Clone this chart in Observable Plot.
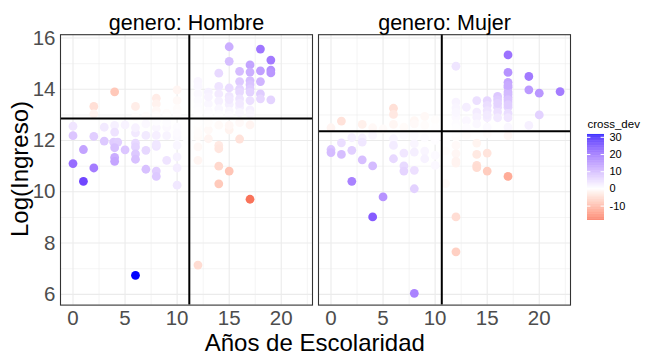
<!DOCTYPE html>
<html><head><meta charset="utf-8">
<script src="https://cdn.jsdelivr.net/npm/d3@7"></script>
<script src="https://cdn.jsdelivr.net/npm/@observablehq/plot@0.6"></script>
<style>
body{margin:0;background:#fff;}
#chart{position:relative;width:648px;height:360px;font-family:"Liberation Sans",Arial,sans-serif;overflow:hidden;}
#chart svg{position:absolute;}
.t{position:absolute;color:#000;white-space:nowrap;line-height:0.85;}
</style></head><body><div id="chart"></div>
<script>
const generos = ["Hombre", "Mujer"];
const hombreX = [15,18,15,19,17,14,16,17,18,19,19,16,17,18,17,12,12,14,15,16,17,17,18,16,13,14,15,16,17,18,19,12,12,13,14,15,16,17,12,13,14,15,16,12,14,15,17,12,13,14,13,12,15,16,
  4,2,6,8,8,8,10,10,10,9,2,8,10,11,9,7,6,
  0,0,2,3,4,4,5,6,6,7,8,8,9,9,10,10,3,3.9,4.3,4,6,6,5,7,8,8,10,1,0,2,1,4,4,6,6,7,8,8,9,10,10,10,6,11,10,11,9,7,8,
  12,12,12,13,13,14,14,15,16,15,17,12,14,15,14,17,12,12,13,14,16,12];
const hombreY = [15.66,15.57,15.09,15.14,14.95,14.63,14.70,14.67,14.72,14.75,14.64,14.30,14.34,14.30,14.18,14.31,14.11,14.11,14.05,14.02,14.02,13.89,13.82,13.89,13.89,13.82,13.72,13.63,13.56,13.63,13.59,13.82,13.56,13.43,13.54,13.41,13.30,13.20,13.30,13.15,13.24,13.15,13.09,13.04,13.02,12.98,13.04,13.15,13.00,12.95,13.70,12.95,13.60,13.45,
  13.90,13.33,13.33,13.65,13.43,13.17,13.98,13.56,13.24,13.07,13.04,12.98,13.05,13.20,12.95,12.95,12.92,
  12.56,12.19,12.16,12.52,12.59,12.33,12.61,12.30,12.50,12.20,12.50,12.20,12.52,12.19,12.52,12.14,11.98,11.94,11.94,11.72,11.90,11.75,11.64,11.62,11.77,11.85,11.81,11.65,11.10,10.93,10.41,11.34,11.19,11.48,11.27,10.88,10.81,10.60,11.23,11.36,10.93,10.26,6.74,12.60,12.30,12.00,12.70,12.65,12.75,
  12.52,12.14,11.75,12.42,12.07,11.81,11.68,12.42,12.06,12.59,12.61,11.23,11.00,10.81,10.31,9.71,7.14,12.70,12.70,12.60,12.70,12.30];
const mujerX = [17,12,17,19,17,19,20,22,17,17,17,17,17,17,17,16,16,15,14,15,16,15,16,16,20,19,12,12,13,14,13,14,15,12,12,15,17,14,17,17,17,17,16,15,12,12,13,
  6,6,1,3,4,6,8,9,10,7,8,0,10,9,5,
  0,0,1,1,2,2,3,3,4,3,4,2,5,4,8,6,6,6,7,7,7,8,8,8,8,9,9,10,10,10,8,9,10,7,
  12,12,12,12,12,14,14,15,14,14,15,17,12,12,15,17,11,12,13,11,11];
const mujerY = [15.34,14.90,14.66,14.50,14.27,13.98,13.85,13.91,14.08,13.89,13.69,13.50,13.30,13.07,12.89,13.72,13.59,13.56,13.56,13.37,13.30,13.17,13.11,12.89,13.00,12.59,13.50,13.28,13.30,13.11,12.78,12.91,12.89,12.91,12.65,12.52,12.52,12.65,14.15,13.80,13.60,13.40,13.45,13.00,13.10,12.50,12.50,
  13.26,13.02,12.76,12.63,12.50,12.63,12.78,12.94,12.81,12.52,12.65,12.50,12.50,12.60,12.45,
  11.65,11.53,11.91,11.46,12.11,11.62,12.10,11.94,12.20,11.25,11.01,10.41,9.80,9.02,6.04,12.07,11.81,11.29,11.51,11.01,10.81,10.84,10.12,11.88,11.55,11.59,11.29,12.01,11.03,11.42,12.20,12.10,12.20,12.20,
  12.13,11.81,11.49,11.12,11.20,11.90,11.46,11.51,11.03,10.94,10.81,10.60,9.02,7.66,12.26,12.19,10.32,12.30,12.20,12.00,11.60];
const mediaX = [11.17, 10.64];
const mediaY = [12.86, 12.36];
const xTicks = [0, 5, 10, 15, 20];
const xMinor = [2.5, 7.5, 12.5, 17.5, 22.5];
const yTicks = [6, 8, 10, 12, 14, 16];
const yMinor = [7, 9, 11, 13, 15];
const legendTicks = [-10, 0, 10, 20, 30];

const medias = generos.map((g, i) => ({genero: g, mx: mediaX[i], my: mediaY[i]}));
const series = [[hombreX, hombreY], [mujerX, mujerY]];
const data = [];
series.forEach(([xs, ys], i) => {
  xs.forEach((x, j) => {
    const y = ys[j];
    data.push({genero: generos[i], esc: x, ingreso: y, cross_dev: (x - mediaX[i]) * (y - mediaY[i])});
  });
});
const [dmin, dmax] = d3.extent(data, d => d.cross_dev);
const colorScale = {type: "linear", domain: [dmin, 0, dmax], range: ["#F9735A", "#FFFFFF", "#0000FF"], interpolate: d3.interpolateLab};

const font = '"Liberation Sans", Arial, sans-serif';
const grid = "#EBEBEB";
const main = Plot.plot({
  width: 648, height: 360,
  marginTop: 34.2, marginBottom: 55.4, marginLeft: 59.5, marginRight: 78,
  style: {fontFamily: font, background: "white"},
  fx: {domain: generos, paddingInner: 0.0235, paddingOuter: 0, label: null},
  x: {domain: [-1.2, 23.0], label: null},
  y: {domain: [5.58, 16.13], label: null},
  color: colorScale,
  marks: [
    Plot.ruleX(xMinor, {stroke: grid, strokeWidth: 0.55}),
    Plot.ruleY(yMinor, {stroke: grid, strokeWidth: 0.55}),
    Plot.ruleX(xTicks, {stroke: grid, strokeWidth: 1.1}),
    Plot.ruleY(yTicks, {stroke: grid, strokeWidth: 1.1}),
    Plot.dot(data, {x: "esc", y: "ingreso", fx: "genero", fill: "cross_dev", r: 4.4}),
    Plot.ruleX(medias, {x: "mx", fx: "genero", stroke: "black", strokeWidth: 2}),
    Plot.ruleY(medias, {y: "my", fx: "genero", stroke: "black", strokeWidth: 2}),
    Plot.frame({stroke: "#333333", strokeWidth: 1.1}),
    Plot.axisX({ticks: xTicks, tickSize: 0, tickPadding: 5.5, fontSize: 20.5, fill: "#4D4D4D", label: null}),
    Plot.axisY({ticks: yTicks, tickSize: 0, tickPadding: 5, fontSize: 20.5, fill: "#4D4D4D", label: null}),
    Plot.axisFx({anchor: "top", tickSize: 0, tickPadding: 5, fontSize: 21.5, fill: "black", label: null, tickFormat: d => `genero: ${d}`})
  ]
});

const step = (dmax - dmin) / 120;
const slices = d3.range(120).map(i => dmin + i * step);
const legend = Plot.plot({
  width: 73, height: 120, margin: 0,
  style: {fontFamily: font, background: "transparent", overflow: "visible"},
  x: {domain: [0, 1], range: [12, 29], axis: null},
  y: {domain: [dmin, dmax], range: [110, 24], axis: null},
  color: colorScale,
  marks: [
    Plot.rect(slices, {x1: 0, x2: 1, y1: d => d, y2: d => d + step * 1.05, fill: d => d + step / 2}),
    Plot.ruleY(legendTicks, {x1: 0, x2: 0.2, stroke: "white", strokeWidth: 1}),
    Plot.ruleY(legendTicks, {x1: 0.8, x2: 1, stroke: "white", strokeWidth: 1}),
    Plot.text(legendTicks, {x: 1, y: d => d, dx: 5, text: d => String(d), textAnchor: "start", fontSize: 11, fill: "black"}),
    Plot.text(["cross_dev"], {frameAnchor: "top-left", dx: 12, dy: 13.5, text: d => d, textAnchor: "start", lineAnchor: "middle", fontSize: 11.5, fill: "black"})
  ]
});

const chart = document.getElementById("chart");
main.style.left = "0px"; main.style.top = "0px";
legend.style.left = "575px"; legend.style.top = "110px";
chart.appendChild(main);
chart.appendChild(legend);
const xt = document.createElement("div");
xt.className = "t"; xt.textContent = "Años de Escolaridad";
xt.style.fontSize = "24px"; xt.style.left = "314.8px"; xt.style.top = "342.5px"; xt.style.transform = "translate(-50%,-50%)";
chart.appendChild(xt);
const yt = document.createElement("div");
yt.className = "t"; yt.textContent = "Log(Ingreso)";
yt.style.fontSize = "24px"; yt.style.left = "20px"; yt.style.top = "169px"; yt.style.transform = "translate(-50%,-50%) rotate(-90deg)";
chart.appendChild(yt);
</script></body></html>
